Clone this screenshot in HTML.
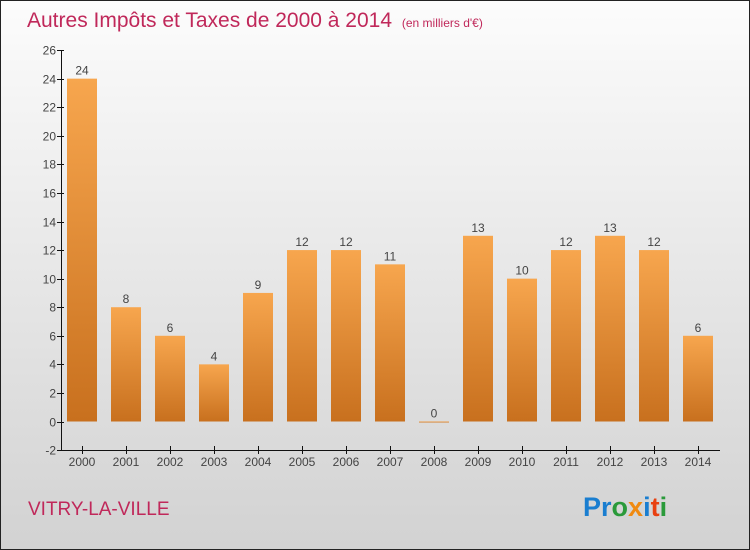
<!DOCTYPE html>
<html><head><meta charset="utf-8"><style>
body{margin:0}
#c{width:750px;height:550px;position:relative;overflow:hidden;font-family:"Liberation Sans",sans-serif}
</style></head><body>
<div id="c">
<svg id="s" width="750" height="550" xmlns="http://www.w3.org/2000/svg">
<defs>
<linearGradient id="bg" x1="0" y1="0" x2="0" y2="1"><stop offset="0" stop-color="#fcfcfc"/><stop offset="1" stop-color="#d2d2d2"/></linearGradient>
<linearGradient id="bar" x1="0" y1="0" x2="0" y2="1"><stop offset="0" stop-color="#f7a64e"/><stop offset="1" stop-color="#c8701e"/></linearGradient>
</defs>
<rect x="0.5" y="0.5" width="749" height="549" fill="url(#bg)" stroke="#222"/>
<text x="27" y="27" font-size="21" fill="#c0285a">Autres Impôts et Taxes de 2000 à 2014 <tspan font-size="12" dx="4">(en milliers d'€)</tspan></text>
<g id="marks"></g>
<text x="28" y="515" font-size="19" fill="#c0285a">VITRY-LA-VILLE</text>
<text x="583" y="516" font-size="27" font-weight="bold"><tspan fill="#1a7ed0">Pr</tspan><tspan fill="#2a9a3a">o</tspan><tspan fill="#f08a10">x</tspan><tspan fill="#1a7ed0">i</tspan><tspan fill="#e84010">t</tspan><tspan fill="#2a9a3a">i</tspan></text>
</svg></div>
<script>
const categories=["2000","2001","2002","2003","2004","2005","2006","2007","2008","2009","2010","2011","2012","2013","2014"];
const values=[24,8,6,4,9,12,12,11,0,13,10,12,13,12,6];
const yTicks=[-2,0,2,4,6,8,10,12,14,16,18,20,22,24,26];
const NS="http://www.w3.org/2000/svg";
const g=document.getElementById('marks');
const y=v=>421.5-(v)*(400/28);
const x=i=>82+i*44;
function mk(t,a,txt){const e=document.createElementNS(NS,t);for(const k in a)e.setAttribute(k,a[k]);if(txt!==undefined)e.textContent=txt;g.appendChild(e);return e;}
let ax=mk('line',{x1:61.5,y1:y(26),x2:61.5,y2:y(-2),stroke:'#111'});


let xa=mk('line',{x1:61.5,y1:450.5,x2:720,y2:450.5,stroke:'#111'});


yTicks.forEach(v=>{
 const yy=Math.round(y(v))+0.5;
 let t=mk('line',{x1:57,y1:yy,x2:64,y2:yy,stroke:'#111'});
 
 
 let l=mk('text',{x:56,y:yy+4,'font-size':12,'text-anchor':'end',fill:'#444'},String(v));
 
 
});
categories.forEach((c,i)=>{
 const cx=x(i),v=values[i];
 let b=mk('rect',{x:cx-15,y:y(v),width:30,height:Math.max(y(0)-y(v),1),fill:'url(#bar)'});
 
 
 let vl=mk('text',{x:cx,y:y(v)-4,'font-size':12,'text-anchor':'middle',fill:'#444'},String(v));
 
 
 let t=mk('line',{x1:cx+0.5,y1:446,x2:cx+0.5,y2:454,stroke:'#111'});
 
 
 let xl=mk('text',{x:cx,y:466,'font-size':12,'text-anchor':'middle',fill:'#444'},c);
 
 
});
</script>
</body></html>
